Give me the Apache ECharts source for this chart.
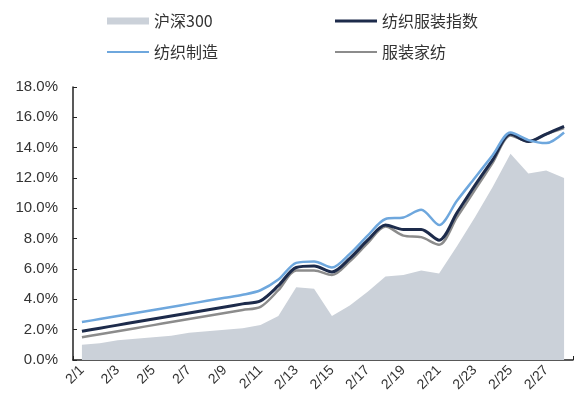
<!DOCTYPE html>
<html>
<head>
<meta charset="utf-8">
<script src="https://cdn.jsdelivr.net/npm/echarts@6/dist/echarts.min.js"></script>
<style>
  html, body { margin: 0; padding: 0; background: #fff; }
  #chart { width: 574px; height: 408px; }
</style>
</head>
<body>
<div id="chart"></div>
<script>
// Trading days in February
const dates = ['2/1','2/2','2/3','2/4','2/5','2/6','2/7','2/8','2/9','2/10',
  '2/11','2/12','2/13','2/14','2/15','2/16','2/17','2/18','2/19','2/20',
  '2/21','2/22','2/23','2/24','2/25','2/26','2/27','2/28'];

// Cumulative returns, %
const hs300 = [1.0,1.1,1.3,1.4,1.5,1.6,1.8,1.9,2.0,2.1,2.3,2.9,4.8,4.7,2.9,3.6,4.5,5.5,5.6,5.9,5.7,7.5,9.4,11.4,13.6,12.3,12.5,12.0];
const textileApparel = [1.9,2.1,2.3,2.5,2.7,2.9,3.1,3.3,3.5,3.7,3.9,4.9,6.1,6.2,5.8,6.7,7.9,8.9,8.6,8.6,7.9,9.7,11.5,13.2,14.9,14.4,14.9,15.4];
const textileMfg = [2.5,2.7,2.9,3.1,3.3,3.5,3.7,3.9,4.1,4.3,4.6,5.3,6.4,6.5,6.1,7.0,8.2,9.3,9.4,9.9,8.9,10.5,12.0,13.5,15.0,14.5,14.3,15.0];
const apparelHome = [1.5,1.7,1.9,2.1,2.3,2.5,2.7,2.9,3.1,3.3,3.5,4.6,5.9,5.9,5.6,6.5,7.7,8.8,8.2,8.1,7.6,9.4,11.2,13.0,14.8,14.4,14.9,15.3];

// Y axis ticks
const yMin = 0, yMax = 18, yStep = 2;

const NAMES = ['沪深300', '纺织服装指数', '纺织制造', '服装家纺'];
const COLORS = ['#cbd1d9', '#1d2b4b', '#6ea7dd', '#8c8c8c'];

const legendText = { fontSize: 16, color: '#333', fontFamily: '"Noto Sans CJK SC", sans-serif' };
function legendAt(name, left, top, h) {
  return {
    data: [name], left: left, top: top, icon: 'rect',
    itemWidth: 42, itemHeight: h, textStyle: legendText, padding: 0
  };
}

const chart = echarts.init(document.getElementById('chart'), null, { renderer: 'canvas' });
chart.setOption({
  animation: false,
  backgroundColor: '#fff',
  legend: [
    legendAt(NAMES[0], 107, 13, 7),
    legendAt(NAMES[1], 335, 13, 3),
    legendAt(NAMES[2], 107, 44, 2),
    legendAt(NAMES[3], 335, 44, 2)
  ],
  grid: { left: 73, right: 1, top: 87, bottom: 48, containLabel: false },
  xAxis: {
    type: 'category',
    data: dates,
    boundaryGap: true,
    axisLine: { lineStyle: { color: '#222', width: 1.5 } },
    axisTick: { show: true, inside: true, interval: 1, length: 4, lineStyle: { color: '#222' } },
    axisLabel: {
      interval: 1, rotate: 45, margin: 8,
      fontSize: 14, color: '#333', fontFamily: '"Liberation Sans", Arial, sans-serif'
    },
    splitLine: { show: false }
  },
  yAxis: {
    type: 'value',
    min: yMin, max: yMax, interval: yStep,
    axisLine: { show: true, lineStyle: { color: '#222', width: 1.5 } },
    axisTick: { show: true, inside: true, length: 4, lineStyle: { color: '#222' } },
    axisLabel: {
      formatter: v => v.toFixed(1) + '%',
      margin: 15, fontSize: 15, color: '#333',
      fontFamily: '"Liberation Sans", Arial, sans-serif'
    },
    splitLine: { show: false }
  },
  series: [
    {
      name: NAMES[0], type: 'line', data: hs300, symbol: 'none',
      lineStyle: { width: 0, color: COLORS[0] },
      itemStyle: { color: COLORS[0] },
      areaStyle: { color: COLORS[0], opacity: 1 },
      z: 1
    },
    {
      name: NAMES[3], type: 'line', data: apparelHome, symbol: 'none', smooth: 0.3,
      lineStyle: { width: 2.5, color: COLORS[3] }, itemStyle: { color: COLORS[3] }, z: 2
    },
    {
      name: NAMES[1], type: 'line', data: textileApparel, symbol: 'none', smooth: 0.3,
      lineStyle: { width: 3, color: COLORS[1] }, itemStyle: { color: COLORS[1] }, z: 3
    },
    {
      name: NAMES[2], type: 'line', data: textileMfg, symbol: 'none', smooth: 0.3,
      lineStyle: { width: 2.5, color: COLORS[2] }, itemStyle: { color: COLORS[2] }, z: 4
    }
  ]
});
</script>
</body>
</html>
